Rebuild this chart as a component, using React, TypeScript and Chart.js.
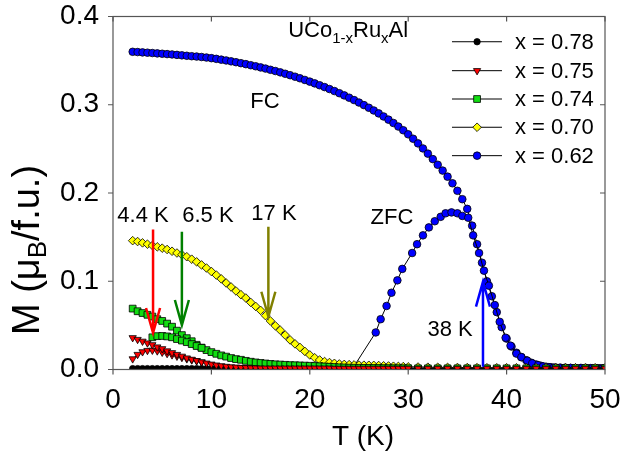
import { useEffect, useRef } from "react";
import { Chart, registerables } from "chart.js";

Chart.register(...registerables);

const FONT = "'Liberation Sans', Arial, Helvetica, sans-serif";

// Temperature grids (K)
const TEMP_FINE = [
  2, 2.5, 3, 3.5, 4, 4.5, 5, 5.5, 6, 6.5, 7, 7.5, 8, 8.5, 9, 9.5, 10, 10.5, 11, 11.5,
  12, 12.5, 13, 13.5, 14, 14.5, 15, 15.5, 16, 16.5, 17, 17.5, 18, 18.5, 19, 19.5, 20,
  20.5, 21, 21.5, 22, 22.5, 23, 23.5, 24, 24.5, 25, 25.5, 26, 26.5, 27, 27.5, 28, 28.5,
  29, 29.5, 30,
];
const TEMP_COARSE = [31, 32, 33, 34, 35, 36, 37, 38, 39, 40, 41, 42, 43, 44, 45, 46, 47, 48, 49, 50];
const TEMP_062_FC_HIGH = [
  30.5, 31, 31.5, 32, 32.5, 33, 33.5, 34, 34.5, 35, 35.5, 36, 36.5, 37, 37.5, 38, 38.5,
  39, 39.5, 40, 40.5, 41, 41.5, 42, 42.5, 43, 43.5, 44, 44.5, 45, 45.5, 46, 46.5, 47,
  47.5, 48, 48.5, 49, 49.5, 50,
];
const TEMP_075_ZFC = [2, 2.5, 3, 3.5, 4, 4.5, 5, 5.5, 6, 6.5, 7, 7.5, 8, 8.5, 9];
const TEMP_074_ZFC = [4, 4.5, 5, 5.5, 6, 6.5, 7, 7.5, 8, 8.5, 9];
const TEMP_062_ZFC = [
  24.4, 26.7, 27.2, 27.8, 28.3, 28.9, 29.4, 30.4, 30.9, 31.5, 32.1, 32.7, 33.3, 33.8,
  34.4, 35.0, 35.5, 36.1, 36.6, 37.2, 37.7, 38.2, 38.8, 39.3, 39.9, 40.4, 41.0, 41.5,
  42.1, 42.6, 43.2, 43.7, 44.3, 44.8, 45.4, 45.9, 46.5, 47.0, 47.6, 48.1, 48.7, 49.2, 49.8,
];

// Magnetization M (muB/f.u.)
const M_078 = [
  0.001, 0.001, 0.001, 0.001, 0.001, 0.001, 0.001, 0.001, 0.001, 0.001, 0.001, 0.001,
  0.001, 0.001, 0.001, 0.001, 0.001, 0.001, 0.001, 0.001, 0.001, 0.001, 0.001, 0.001,
  0.001, 0.001, 0.001, 0.001, 0.001, 0.001, 0.001, 0.001, 0.001, 0.001, 0.001, 0.001,
  0.001, 0.001, 0.001, 0.001, 0.001, 0.001, 0.001, 0.001, 0.001, 0.001, 0.001, 0.001,
  0.001, 0.001, 0.001, 0.001, 0.001, 0.001, 0.001, 0.001, 0.001,
  0.001, 0.001, 0.001, 0.001, 0.001, 0.001, 0.001, 0.001, 0.001, 0.001,
  0.001, 0.001, 0.001, 0.001, 0.001, 0.001, 0.001, 0.001, 0.001, 0.001,
];
const M_075_FC = [
  0.036, 0.034, 0.032, 0.030, 0.028, 0.0255, 0.0235, 0.021, 0.019, 0.017, 0.015, 0.013,
  0.0115, 0.010, 0.0085, 0.0072, 0.006, 0.005, 0.0042, 0.0035, 0.003, 0.0026, 0.0023,
  0.002, 0.0018, 0.0017, 0.0016,
  0.0015, 0.0015, 0.0015, 0.0015, 0.0015, 0.0015, 0.0015, 0.0015, 0.0015, 0.0015,
  0.0015, 0.0015, 0.0015, 0.0015,
  0.0013, 0.0013, 0.0013, 0.0013, 0.0013, 0.0013, 0.0013, 0.0013, 0.0013, 0.0013,
  0.0013, 0.0013, 0.0013, 0.0013, 0.0013, 0.0013,
  0.0012, 0.0012, 0.0012, 0.0012, 0.0012, 0.0012, 0.0012, 0.0012, 0.0012, 0.0012,
  0.0012, 0.0012, 0.0012, 0.0012, 0.0012, 0.0012, 0.0012, 0.0012, 0.0012, 0.0012,
];
const M_075_ZFC = [
  0.012, 0.017, 0.020, 0.0215, 0.0218, 0.021, 0.0195, 0.018, 0.0165, 0.015, 0.0135,
  0.012, 0.0108, 0.0098, 0.0085,
];
const M_074_FC = [
  0.069, 0.066, 0.064, 0.062, 0.060, 0.057, 0.055, 0.052, 0.0485, 0.044, 0.039, 0.0355,
  0.032, 0.028, 0.0248, 0.022, 0.0197, 0.0178, 0.016, 0.0146, 0.013, 0.0118, 0.011,
  0.0098, 0.0088, 0.008, 0.0074, 0.0068, 0.0063, 0.0059, 0.0056, 0.0053, 0.005, 0.0048,
  0.0046, 0.0044, 0.0042, 0.004, 0.0037, 0.0034, 0.0031, 0.0028, 0.0025, 0.0023,
  0.0021, 0.002,
  0.0019, 0.0018, 0.0018, 0.0017, 0.0017, 0.0016, 0.0016, 0.0015, 0.0015, 0.0015, 0.0014,
  0.0013, 0.0013, 0.0013, 0.0013, 0.0013, 0.0013, 0.0013, 0.0013, 0.0013, 0.0013,
  0.0013, 0.0013, 0.0013, 0.0013, 0.0013, 0.0013, 0.0013, 0.0013, 0.0013, 0.0013,
];
const M_074_ZFC = [0.0365, 0.0378, 0.038, 0.0375, 0.0365, 0.0345, 0.0328, 0.031, 0.0288, 0.0266, 0.0245];
const M_070 = [
  0.146, 0.145, 0.1435, 0.142, 0.1405, 0.139, 0.1375, 0.136, 0.134, 0.132, 0.130, 0.1278,
  0.125, 0.122, 0.1185, 0.115, 0.111, 0.107, 0.1027, 0.098, 0.0935, 0.089, 0.0848, 0.081,
  0.076, 0.0715, 0.067, 0.061, 0.055, 0.0495, 0.0445, 0.039, 0.0335, 0.029, 0.025, 0.0205,
  0.0165, 0.0133, 0.0108, 0.009, 0.0079, 0.007, 0.0063, 0.0058, 0.0055, 0.0052, 0.005,
  0.0049, 0.0048, 0.0047, 0.0045, 0.0042, 0.004, 0.0037, 0.0035, 0.0033, 0.003,
  0.0028, 0.0026, 0.0025, 0.0024, 0.0023, 0.0022, 0.0021, 0.002, 0.002, 0.002,
  0.002, 0.002, 0.002, 0.002, 0.002, 0.002, 0.002, 0.002, 0.002, 0.002,
];
const M_062_FC = [
  0.360, 0.3597, 0.3593, 0.359, 0.3586, 0.3582, 0.3578, 0.3574, 0.357, 0.3565, 0.356,
  0.3555, 0.355, 0.3546, 0.3541, 0.3535, 0.3528, 0.352, 0.3511, 0.3502, 0.3492, 0.3482,
  0.3471, 0.346, 0.3448, 0.3436, 0.3423, 0.341, 0.3396, 0.3382, 0.3367, 0.3351, 0.3335,
  0.3318, 0.33, 0.3281, 0.3262, 0.3242, 0.3221, 0.32, 0.3178, 0.3155, 0.3131, 0.3106,
  0.308, 0.3053, 0.3025, 0.2996, 0.2966, 0.2935, 0.2902, 0.2867, 0.2831, 0.2793, 0.2753,
  0.2711, 0.2665,
  0.2615, 0.2562, 0.2505, 0.2446, 0.2384, 0.232, 0.2254, 0.2185, 0.211, 0.2025,
  0.193, 0.182, 0.163, 0.142, 0.121, 0.1, 0.083, 0.065, 0.048, 0.035,
  0.026, 0.019, 0.014, 0.0105, 0.0077, 0.0057, 0.0042, 0.0032, 0.0026, 0.0022,
  0.002, 0.0019, 0.0018, 0.0017, 0.0017, 0.0016, 0.0016, 0.0015, 0.0015, 0.0015,
];
const M_062_ZFC = [
  0.002, 0.042, 0.057, 0.072, 0.087, 0.101, 0.114, 0.132, 0.142, 0.152, 0.161, 0.168,
  0.173, 0.177, 0.178, 0.177, 0.174, 0.172, 0.152, 0.132, 0.112, 0.095, 0.073, 0.054,
  0.036, 0.027, 0.018, 0.014, 0.010, 0.007, 0.005, 0.0035, 0.0027, 0.0022, 0.002,
  0.0019, 0.0018, 0.0017, 0.0016, 0.0016, 0.0015, 0.0015, 0.0015,
];

// Axis ticks
const X_TICKS = [0, 10, 20, 30, 40, 50];
const Y_TICKS = [0, 0.1, 0.2, 0.3, 0.4];

// Legend
const SERIES_LABELS = ["x = 0.78", "x = 0.75", "x = 0.74", "x = 0.70", "x = 0.62"];
const SERIES_COLORS = ["#000000", "#ff0000", "#11dd11", "#ffff00", "#0000ff"];
const SERIES_SHAPES = ["circle", "triangleDown", "square", "diamond", "circle"];

// Text annotations: [text, T, M]
const TEXT_LABELS: [string, number, number][] = [
  ["4.4 K", 3.05, 0.174],
  ["6.5 K", 9.65, 0.174],
  ["17 K", 16.36, 0.176],
  ["38 K", 34.25, 0.0448],
  ["FC", 15.45, 0.3037],
  ["ZFC", 28.35, 0.1717],
];
// Arrows: [T, M from, M to, colour]
const ARROWS: [number, number, number, string][] = [
  [4.07, 0.1586, 0.0414, "#ff0000"],
  [7.0, 0.156, 0.0504, "#008000"],
  [15.79, 0.1618, 0.0598, "#808000"],
  [37.6, 0.003, 0.0995, "#0000ff"],
];

const zip = (t: number[], m: number[]) => t.map((v, i) => ({ x: v, y: m[i] }));

function drawMarker(ctx: CanvasRenderingContext2D, shape: string, x: number, y: number, color: string) {
  ctx.save();
  ctx.fillStyle = color;
  ctx.strokeStyle = "#000";
  ctx.lineWidth = 0.8;
  ctx.beginPath();
  if (shape === "circle") {
    const r = color === "#000000" ? 3.2 : 3.8;
    ctx.arc(x, y, r, 0, Math.PI * 2);
  } else if (shape === "triangleDown") {
    const r = 4.2;
    ctx.moveTo(x, y + r);
    ctx.lineTo(x - r * 0.866, y - r * 0.5);
    ctx.lineTo(x + r * 0.866, y - r * 0.5);
    ctx.closePath();
  } else if (shape === "square") {
    const h = 3.4;
    ctx.rect(x - h, y - h, 2 * h, 2 * h);
  } else {
    const r = 4.3;
    ctx.moveTo(x, y - r);
    ctx.lineTo(x + r, y);
    ctx.lineTo(x, y + r);
    ctx.lineTo(x - r, y);
    ctx.closePath();
  }
  ctx.fill();
  ctx.stroke();
  ctx.restore();
}

const annotPlugin = {
  id: "annot",
  afterDraw(chart: any) {
    const { ctx, chartArea: a, scales } = chart;
    const xs = scales.x;
    const ys = scales.y;
    const px = (v: number) => xs.getPixelForValue(v);
    const py = (v: number) => ys.getPixelForValue(v);
    ctx.save();

    // frame
    ctx.strokeStyle = "#555";
    ctx.lineWidth = 1.2;
    ctx.strokeRect(a.left, a.top, a.right - a.left, a.bottom - a.top);
    // ticks
    ctx.beginPath();
    X_TICKS.forEach((t) => {
      const x = px(t);
      ctx.moveTo(x, a.bottom);
      ctx.lineTo(x, a.bottom + 5);
      ctx.moveTo(x, a.top);
      ctx.lineTo(x, a.top + 5);
    });
    Y_TICKS.forEach((t) => {
      const y = py(t);
      ctx.moveTo(a.left, y);
      ctx.lineTo(a.left - 5, y);
      ctx.moveTo(a.right, y);
      ctx.lineTo(a.right - 5, y);
    });
    ctx.stroke();

    // arrows
    ARROWS.forEach(([t, m0, m1, col]) => {
      const x = px(t);
      const y0 = py(m0);
      const y1 = py(m1);
      const dir = y1 > y0 ? 1 : -1;
      ctx.strokeStyle = col;
      ctx.lineWidth = 2.5;
      ctx.beginPath();
      ctx.moveTo(x, y0);
      ctx.lineTo(x, y1);
      ctx.moveTo(x - 7, y1 - dir * 25);
      ctx.lineTo(x, y1);
      ctx.lineTo(x + 7, y1 - dir * 25);
      ctx.stroke();
    });

    // text labels
    ctx.fillStyle = "#000";
    ctx.font = `22px ${FONT}`;
    ctx.textAlign = "center";
    ctx.textBaseline = "middle";
    TEXT_LABELS.forEach(([s, t, m]) => ctx.fillText(s, px(t), py(m)));

    // compound label UCo1-xRuxAl
    ctx.textAlign = "left";
    ctx.textBaseline = "alphabetic";
    const parts: [string, boolean][] = [
      ["UCo", false],
      ["1-x", true],
      ["Ru", false],
      ["x", true],
      ["Al", false],
    ];
    let cx = px(17.8);
    const by = py(0.377);
    parts.forEach(([s, sub]) => {
      ctx.font = sub ? `15px ${FONT}` : `22px ${FONT}`;
      ctx.fillText(s, cx, sub ? by + 6 : by);
      cx += ctx.measureText(s).width;
    });

    // legend
    const rows = [0.3714, 0.3386, 0.3065, 0.2745, 0.2423];
    SERIES_LABELS.forEach((lab, i) => {
      const y = py(rows[i]);
      ctx.strokeStyle = "#000";
      ctx.lineWidth = 1;
      ctx.beginPath();
      ctx.moveTo(px(34.45), y);
      ctx.lineTo(px(39.53), y);
      ctx.stroke();
      drawMarker(ctx, SERIES_SHAPES[i], px(37.0), y, SERIES_COLORS[i]);
      ctx.fillStyle = "#000";
      ctx.font = `22px ${FONT}`;
      ctx.textAlign = "left";
      ctx.textBaseline = "middle";
      ctx.fillText(lab, px(40.85), y + 1);
    });

    // x title
    ctx.font = `28px ${FONT}`;
    ctx.textAlign = "center";
    ctx.textBaseline = "alphabetic";
    ctx.fillText("T (K)", (a.left + a.right) / 2 + 4, 445);

    // y title (rotated)
    ctx.save();
    ctx.translate(39, 250);
    ctx.rotate(-Math.PI / 2);
    const yparts: [string, boolean][] = [
      ["M (\u03bc", false],
      ["B", true],
      ["/f.u.)", false],
    ];
    let total = 0;
    yparts.forEach(([s, sub]) => {
      ctx.font = sub ? `26px ${FONT}` : `38px ${FONT}`;
      total += ctx.measureText(s).width;
    });
    let ux = -total / 2;
    ctx.textAlign = "left";
    yparts.forEach(([s, sub]) => {
      ctx.font = sub ? `26px ${FONT}` : `38px ${FONT}`;
      ctx.fillText(s, ux, sub ? 7 : 0);
      ux += ctx.measureText(s).width;
    });
    ctx.restore();

    ctx.restore();
  },
};

export default function App() {
  const ref = useRef<HTMLCanvasElement | null>(null);
  useEffect(() => {
    if (!ref.current) return;
    document.body.style.margin = "0";
    const tempMain = [...TEMP_FINE, ...TEMP_COARSE];
    const tempBlue = [...TEMP_FINE, ...TEMP_062_FC_HIGH];
    const base = {
      showLine: true,
      borderColor: "#000",
      borderWidth: 1,
      pointBorderColor: "#000",
      pointBorderWidth: 0.8,
    };
    const chart = new Chart(ref.current, {
      type: "scatter",
      data: {
        datasets: [
          { ...base, label: "0.75 FC", data: zip(tempMain, M_075_FC), pointStyle: "triangle", pointRotation: 180, pointRadius: 4.2, pointBackgroundColor: SERIES_COLORS[1] },
          { ...base, label: "0.75 ZFC", data: zip(TEMP_075_ZFC, M_075_ZFC), pointStyle: "triangle", pointRotation: 180, pointRadius: 4.2, pointBackgroundColor: SERIES_COLORS[1] },
          { ...base, label: "0.74 ZFC", data: zip(TEMP_074_ZFC, M_074_ZFC), pointStyle: "rect", pointRadius: 4.8, pointBackgroundColor: SERIES_COLORS[2] },
          { ...base, label: "0.74 FC", data: zip(tempMain, M_074_FC), pointStyle: "rect", pointRadius: 4.8, pointBackgroundColor: SERIES_COLORS[2] },
          { ...base, label: "0.70", data: zip(tempMain, M_070), pointStyle: "rectRot", pointRadius: 4.3, pointBackgroundColor: SERIES_COLORS[3] },
          { ...base, label: "0.62 ZFC", data: zip(TEMP_062_ZFC, M_062_ZFC), pointStyle: "circle", pointRadius: 3.8, pointBackgroundColor: SERIES_COLORS[4] },
          { ...base, label: "0.62 FC", data: zip(tempBlue, M_062_FC), pointStyle: "circle", pointRadius: 3.8, pointBackgroundColor: SERIES_COLORS[4] },
          { ...base, label: "0.78", data: zip(tempMain, M_078), pointStyle: "circle", pointRadius: 3.2, pointBackgroundColor: SERIES_COLORS[0] },
        ],
      },
      options: {
        animation: false,
        responsive: false,
        devicePixelRatio: 1,
        layout: { padding: { top: 16.5, right: 16, left: 0, bottom: 0 } },
        plugins: { legend: { display: false }, tooltip: { enabled: false } },
        scales: {
          x: {
            type: "linear",
            min: 0,
            max: 50,
            afterBuildTicks: (s: any) => {
              s.ticks = X_TICKS.map((v) => ({ value: v }));
            },
            ticks: { font: { size: 28, family: FONT }, color: "#000", padding: 9, maxRotation: 0 },
            grid: { display: false, drawTicks: true, tickLength: 5 },
            border: { display: false },
            afterFit: (s: any) => {
              s.height = 96.5;
              s.paddingLeft = 0;
              s.paddingRight = 0;
            },
          },
          y: {
            type: "linear",
            min: 0,
            max: 0.4,
            afterBuildTicks: (s: any) => {
              s.ticks = Y_TICKS.map((v) => ({ value: v }));
            },
            ticks: {
              font: { size: 28, family: FONT },
              color: "#000",
              padding: 9,
              callback: (v: any) => Number(v).toFixed(1),
            },
            grid: { display: false, drawTicks: true, tickLength: 5 },
            border: { display: false },
            afterFit: (s: any) => {
              s.width = 113;
              s.paddingTop = 0;
              s.paddingBottom = 0;
            },
          },
        },
      },
      plugins: [annotPlugin],
    });
    return () => chart.destroy();
  }, []);
  return <canvas ref={ref} width={621} height={466} style={{ display: "block" }} />;
}
